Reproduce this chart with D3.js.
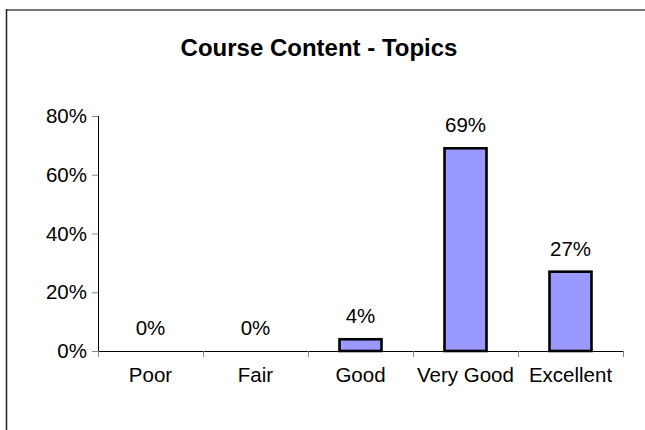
<!DOCTYPE html>
<html>
<head>
<meta charset="utf-8">
<script src="https://cdn.jsdelivr.net/npm/d3@7/dist/d3.min.js"></script>
<style>
  html, body { margin: 0; background: #fff; overflow: hidden; }
  svg { display: block; }
  svg text { font-family: "Liberation Sans", Arial, sans-serif; fill: #000; }
</style>
</head>
<body>
<script>
// chart data
var categories = ["Poor", "Fair", "Good", "Very Good", "Excellent"];
var values = [0, 0, 4, 69, 27];
var yTicks = [0, 20, 40, 60, 80];

window.onload = function() {

	var w = 645
	var h = 430
	var left = 98
	var right = 623
	var top = 116
	var bottom = 351
	var fontSize = "20.5px"

	var svg = d3.select("body")
		.append("svg")
		.attr("width", w)
		.attr("height", h);

	// chart frame (only top and left visible)
	svg.append("line")
		.attr("x1", 6).attr("x2", w)
		.attr("y1", 10).attr("y2", 10)
		.attr("stroke", "#777").attr("stroke-width", 2);
	svg.append("line")
		.attr("x1", 6.5).attr("x2", 6.5)
		.attr("y1", 9).attr("y2", h)
		.attr("stroke", "#222").attr("stroke-width", 1.5);

	// title
	svg.append("text")
		.attr("x", 319)
		.attr("y", 56)
		.attr("text-anchor", "middle")
		.style("font-weight", "bold")
		.style("font-size", "24px")
		.text("Course Content - Topics");

	// scales
	var x = d3.scaleBand()
		.domain(categories)
		.range([left, right])
		.paddingInner(0.6)
		.paddingOuter(0.3);

	var xCat = d3.scaleBand()
		.domain(categories)
		.range([left, right]);

	var y = d3.scaleLinear()
		.domain([0, 80])
		.range([bottom, top]);

	// y axis
	var yAxis = d3.axisLeft(y)
		.tickValues(yTicks)
		.tickSize(6)
		.tickPadding(5)
		.tickFormat(function(d) { return d + "%"; });

	var gy = svg.append("g")
		.attr("transform", "translate(" + left + ",0)")
		.call(yAxis);
	gy.attr("font-size", null).attr("font-family", null);
	gy.select(".domain").attr("stroke", "#000").attr("d", "M0.5," + top + "V" + bottom);
	gy.selectAll(".tick line").attr("stroke", "#888");
	gy.selectAll(".tick text").style("font-size", fontSize);

	// x axis
	var xAxis = d3.axisBottom(xCat)
		.tickSize(0)
		.tickPadding(16);

	var gx = svg.append("g")
		.attr("transform", "translate(0," + bottom + ")")
		.call(xAxis);
	gx.attr("font-size", null).attr("font-family", null);
	gx.select(".domain").attr("stroke", "#000").attr("d", "M" + left + ",0.5H" + right);
	gx.selectAll(".tick text").style("font-size", fontSize);

	// tick marks between categories
	var bounds = categories.map(function(c) { return xCat(c); }).concat([right]);
	svg.selectAll(".sep")
		.data(bounds)
		.enter()
		.append("line")
		.attr("x1", function(d) { return Math.round(d) + 0.5; })
		.attr("x2", function(d) { return Math.round(d) + 0.5; })
		.attr("y1", bottom)
		.attr("y2", bottom + 6)
		.attr("stroke", "#888");

	// bars
	svg.selectAll(".bar")
		.data(values)
		.enter()
		.append("rect")
		.attr("x", function(d, i) { return x(categories[i]); })
		.attr("y", function(d) { return y(d); })
		.attr("width", x.bandwidth())
		.attr("height", function(d) { return bottom - y(d); })
		.attr("fill", "#9999ff")
		.attr("stroke", "#000")
		.attr("stroke-width", 2.6)
		.style("display", function(d) { return d > 0 ? null : "none"; });

	// value labels
	svg.selectAll(".lbl")
		.data(values)
		.enter()
		.append("text")
		.attr("x", function(d, i) { return xCat(categories[i]) + xCat.bandwidth() / 2; })
		.attr("y", function(d) { return y(d) - 16; })
		.attr("text-anchor", "middle")
		.style("font-size", fontSize)
		.text(function(d) { return d + "%"; });
};
</script>
</body>
</html>
